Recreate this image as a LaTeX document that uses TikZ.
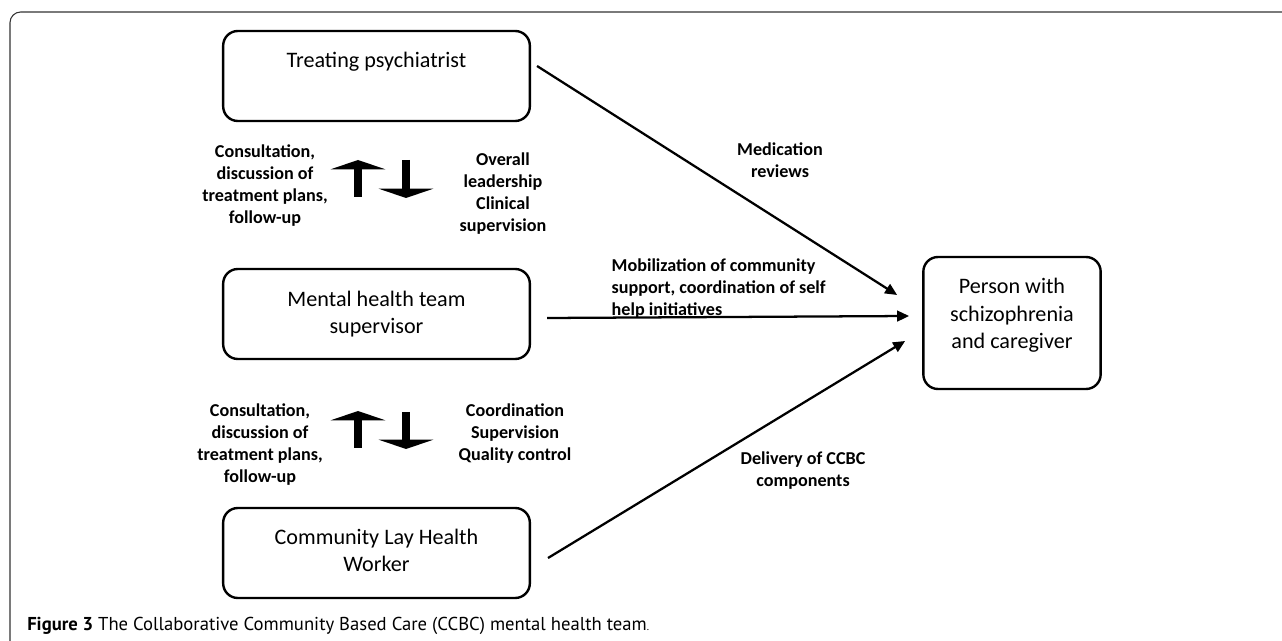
\documentclass[tikz,border=0pt]{standalone}
\usepackage{fontspec}
\setmainfont{Carlito}
\newfontfamily\capfont{PT Sans}
\usetikzlibrary{arrows.meta, positioning}

\tikzset{
  team/.style={draw, line width=1.8pt, rounded corners=11pt, minimum width=230pt,
    minimum height=67.5pt, align=center, font=\fontsize{16.6}{20.5}\selectfont},
  flowlabel/.style={align=center, font=\fontsize{13.6}{16.5}\selectfont\bfseries},
  link/.style={line width=1.7pt, -{Triangle[length=9pt,width=8pt]}},
  bigarrow/.style={line width=6pt, -{Triangle[length=7pt,width=41pt]}}
}

\begin{document}
\begin{tikzpicture}[x=0.75pt, y=-0.75pt]
  \useasboundingbox (0,0) rectangle (1282,641);
  % outer frame
  \draw[line width=0.8pt, rounded corners=8pt, black!80] (1282,12) -- (10,12) -- (10,641);

  % team members
  \node[team] (tp) at (376.5,76) {Treating psychiatrist\\[4pt]~};
  \node[team] (sv) at (376.5,314) {Mental health team\\supervisor};
  \node[team] (lw) at (376.5,553) {Community Lay Health\\Worker\\[-16pt]~};
  \node[team, minimum width=133pt, minimum height=99pt] (pc) at (1012,323)
    {Person with\\schizophrenia\\and caregiver\\[-6pt]~};

  % links to the person
  \draw[link] ([shift={(6,-10)}]tp.east) -- ([shift={(-25,-28)}]pc.west);
  \draw[link] ([shift={(16,4)}]sv.east) -- ([shift={(-13,-7)}]pc.west);
  \draw[link] ([shift={(17,5)}]lw.east) -- ([shift={(-17,18)}]pc.west);

  \node[flowlabel] (med) at (780,160) {Medication\\reviews};
  \node[flowlabel, anchor=west, align=left] (mob) at (607,288.5)
    {Mobilization of community\\support, coordination of self\\help initiatives};
  \node[flowlabel] (del) at (803,471) {Delivery of CCBC\\components};

  % up and down between the team
  \draw[bigarrow] (358,197) -- (358,160);
  \draw[bigarrow] (406,160) -- (406,198);
  \draw[bigarrow] (358,448) -- (358,411);
  \draw[bigarrow] (406,412) -- (406,449);

  \node[flowlabel] (up1) at (265,186) {Consultation,\\discussion of\\treatment plans,\\follow-up};
  \node[flowlabel] (dn1) at (503,193.5) {Overall\\leadership\\Clinical\\supervision};
  \node[flowlabel] (up2) at (260,445) {Consultation,\\discussion of\\treatment plans,\\follow-up};
  \node[flowlabel] (dn2) at (515,434) {Coordination\\Supervision\\Quality control};

  % caption
  \node[anchor=west, inner sep=0pt, font=\capfont\fontsize{14}{17}\selectfont] (cap) at (27,626)
    {\textbf{Figure 3} The Collaborative Community Based Care (CCBC) mental health team{\fontsize{8}{8}\selectfont.}};
\end{tikzpicture}
\end{document}
